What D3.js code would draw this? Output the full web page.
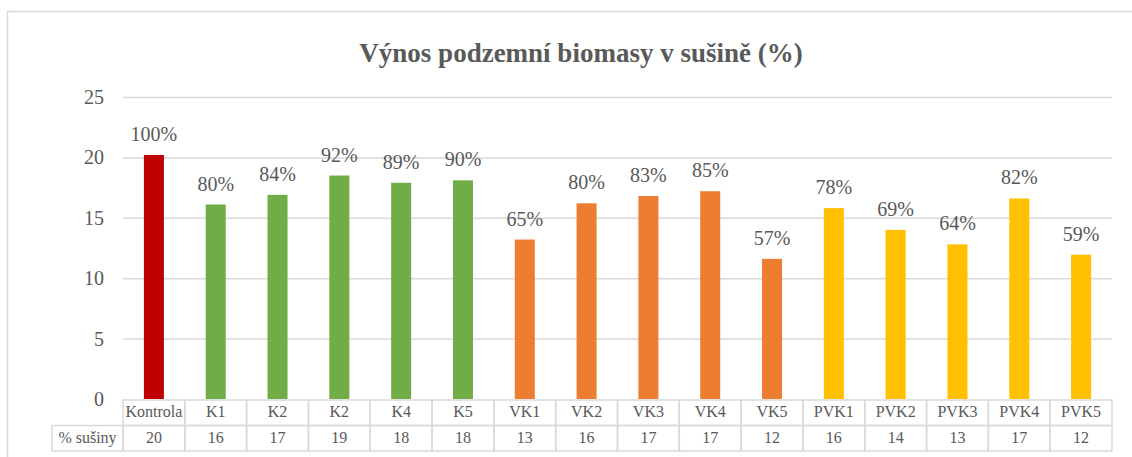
<!doctype html>
<html lang="cs">
  <head>
    <meta charset="utf-8">
    <title>Výnos podzemní biomasy v sušině</title>
    <script src="https://d3js.org/d3.v7.min.js"></script>
    <style>
    body { margin: 0; background: #fff; }
    svg { display: block; }
    text {
      font-family: "Liberation Serif", "Times New Roman", serif;
      fill: #595959;
    }
    .grid line { stroke: #d9d9d9; stroke-width: 1.5; }
    .grid .domain { display: none; }
    .yaxis .domain, .yaxis line { display: none; }
    .yaxis text { font-size: 20px; }
    .cell { fill: none; stroke: #d9d9d9; stroke-width: 1.5; }
    </style>
  </head>

  <body>
    <svg width="1132" height="457"></svg>

    <script>
      // values
      var categories = ['Kontrola', 'K1', 'K2', 'K2', 'K4', 'K5', 'VK1', 'VK2', 'VK3', 'VK4', 'VK5', 'PVK1', 'PVK2', 'PVK3', 'PVK4', 'PVK5'];
      var groups = ['ctrl', 'K', 'K', 'K', 'K', 'K', 'VK', 'VK', 'VK', 'VK', 'VK', 'PVK', 'PVK', 'PVK', 'PVK', 'PVK'];
      var yields = [20.2, 16.1, 16.9, 18.5, 17.9, 18.1, 13.2, 16.2, 16.8, 17.2, 11.6, 15.8, 14.0, 12.8, 16.6, 11.95];
      var percents = ['100%', '80%', '84%', '92%', '89%', '90%', '65%', '80%', '83%', '85%', '57%', '78%', '69%', '64%', '82%', '59%'];
      var dryMatter = [20, 16, 17, 19, 18, 18, 13, 16, 17, 17, 12, 16, 14, 13, 17, 12];
      var yTicks = [0, 5, 10, 15, 20, 25];
      var groupColors = { ctrl: '#c00000', K: '#70ad47', VK: '#ed7d31', PVK: '#ffc000' };

      var svg = d3.select('svg');
      var plotLeft = 123, plotRight = 1112, plotTop = 97, zeroY = 399;

      // outer chart frame (runs off the right / bottom edge)
      svg.append('rect')
        .attr('x', 7.5).attr('y', 11.5)
        .attr('width', 1140).attr('height', 460)
        .attr('fill', 'none').attr('stroke', '#d9d9d9').attr('stroke-width', 1.5);

      svg.append('text')
        .attr('x', 581).attr('y', 62)
        .attr('text-anchor', 'middle')
        .style('font-size', '27px').style('font-weight', 'bold')
        .text('Výnos podzemní biomasy v sušině (%)');

      var x = d3.scaleBand()
        .domain(d3.range(categories.length))
        .range([plotLeft, plotRight])
        .paddingInner(0.676)
        .paddingOuter(0.338);

      var y = d3.scaleLinear().domain([0, 25]).range([zeroY, plotTop]);

      svg.append('g')
        .attr('class', 'grid')
        .attr('transform', 'translate(' + plotLeft + ',0)')
        .call(d3.axisLeft(y).tickValues(yTicks.slice(1)).tickSize(-(plotRight - plotLeft)).tickFormat(''));

      svg.append('g')
        .attr('class', 'yaxis')
        .attr('transform', 'translate(' + (plotLeft - 19) + ',0)')
        .call(d3.axisLeft(y).tickValues(yTicks).tickSize(0).tickPadding(0));

      svg.append('g').selectAll('rect')
        .data(yields)
        .enter()
        .append('rect')
          .attr('x', function(d, i){ return x(i); })
          .attr('width', x.bandwidth())
          .attr('y', function(d){ return y(d); })
          .attr('height', function(d){ return zeroY - y(d); })
          .attr('fill', function(d, i){ return groupColors[groups[i]]; });

      svg.append('g').selectAll('text')
        .data(yields)
        .enter()
        .append('text')
          .attr('x', function(d, i){ return x(i) + x.bandwidth() / 2; })
          .attr('y', function(d){ return y(d) - 14; })
          .attr('text-anchor', 'middle')
          .style('font-size', '20px')
          .text(function(d, i){ return percents[i]; });

      // data table under the axis
      var row1 = 400, row2 = 425.5, row3 = 451;
      var table = svg.append('g');
      var step = x.step();

      table.selectAll('rect.c1')
        .data(categories)
        .enter()
        .append('rect')
          .attr('class', 'cell')
          .attr('x', function(d, i){ return plotLeft + i * step; })
          .attr('y', row1).attr('width', step).attr('height', row2 - row1);

      table.selectAll('rect.c2')
        .data(dryMatter)
        .enter()
        .append('rect')
          .attr('class', 'cell')
          .attr('x', function(d, i){ return plotLeft + i * step; })
          .attr('y', row2).attr('width', step).attr('height', row3 - row2);

      table.append('rect')
        .attr('class', 'cell')
        .attr('x', 52).attr('y', row2).attr('width', plotLeft - 52).attr('height', row3 - row2);

      table.selectAll('text.cat')
        .data(categories)
        .enter()
        .append('text')
          .attr('x', function(d, i){ return x(i) + x.bandwidth() / 2; })
          .attr('y', 417)
          .attr('text-anchor', 'middle')
          .style('font-size', '16px')
          .text(function(d){ return d; });

      table.selectAll('text.dm')
        .data(dryMatter)
        .enter()
        .append('text')
          .attr('x', function(d, i){ return x(i) + x.bandwidth() / 2; })
          .attr('y', 443)
          .attr('text-anchor', 'middle')
          .style('font-size', '16px')
          .text(function(d){ return d; });

      table.append('text')
        .attr('x', (52 + plotLeft) / 2).attr('y', 443)
        .attr('text-anchor', 'middle')
        .style('font-size', '16px')
        .text('% sušiny');
    </script>
  </body>
</html>
